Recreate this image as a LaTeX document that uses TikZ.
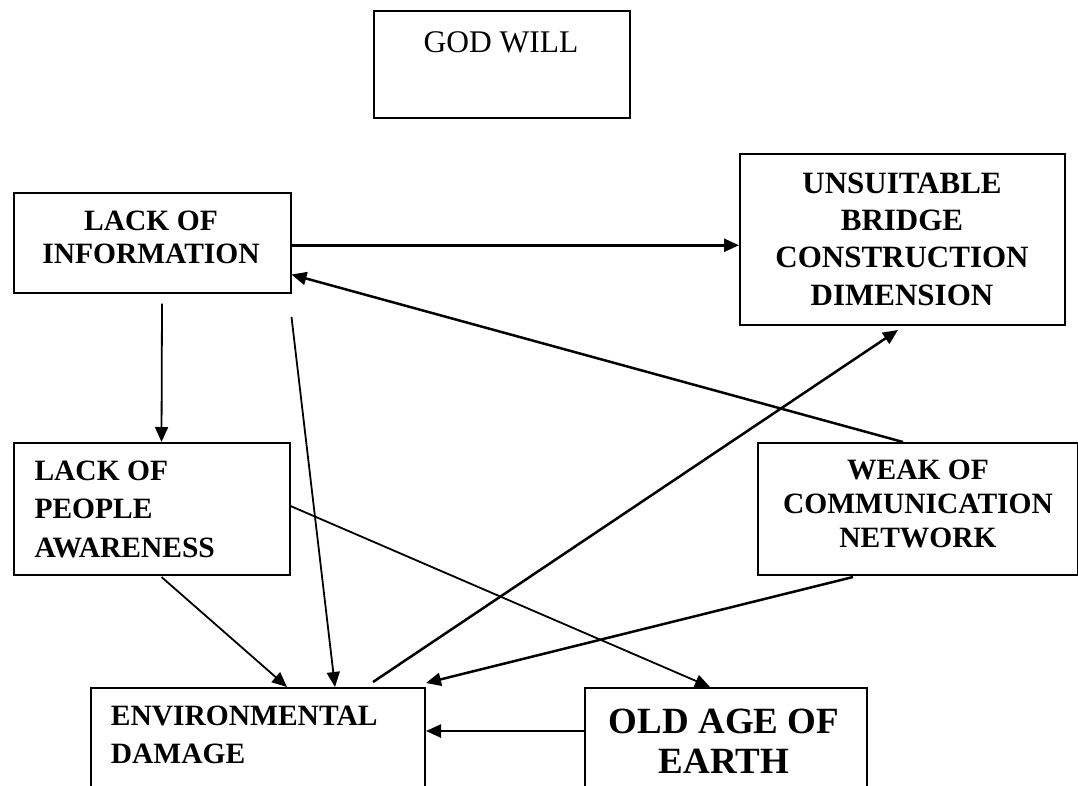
\documentclass[tikz,border=0pt]{standalone}
\usepackage{fontspec}
\setmainfont{Liberation Serif}
\usetikzlibrary{arrows.meta,calc}
\begin{document}
\begin{tikzpicture}[x=1pt,y=-1pt,
  box/.style={draw, line width=2pt, inner sep=0pt, anchor=north west},
  lbl/.style={inner sep=0pt, anchor=base, align=center, font=\bfseries\fontsize{29.5}{33.3}\selectfont},
  arr/.style={-{Triangle[length=15pt,width=13pt]}, line width=1.8pt},
  tarr/.style={arr, line width=2.5pt}]
\useasboundingbox (0,0) rectangle (1078,785);
\clip (0,0) rectangle (1078,785);
% boxes
\node[box, minimum width=256pt, minimum height=107pt] (god) at (373,10) {};
\node[box, minimum width=277pt, minimum height=99.5pt] (loi) at (12.5,192) {};
\node[box, minimum width=325pt, minimum height=171pt] (uns) at (739,153) {};
\node[box, minimum width=276pt, minimum height=132pt] (lopa) at (12.5,442) {};
\node[box, minimum width=320pt, minimum height=131.5pt] (weak) at (757,442) {};
\node[box, minimum width=334pt, minimum height=150pt] (env) at (90,687) {};
\node[box, minimum width=282pt, minimum height=150pt] (old) at (584,687) {};
% texts (anchor = baseline of last line)
\node[lbl, font=\fontsize{31.5}{36}\selectfont] (godT) at (501,52.7) {GOD WILL};
\node[lbl] (loiT) at (151,263.3) {LACK OF\\INFORMATION};
\node[lbl, font=\bfseries\fontsize{31}{37.3}\selectfont] (unsT) at (902,305) {UNSUITABLE\\BRIDGE\\CONSTRUCTION\\DIMENSION};
\node[lbl, align=left, anchor=base west, font=\bfseries\fontsize{29.5}{38.8}\selectfont] (lopaT) at (34.3,557.7) {LACK OF\\PEOPLE\\AWARENESS};
\node[lbl, font=\bfseries\fontsize{29.5}{33.7}\selectfont] (weakT) at (918,547.3) {WEAK OF\\COMMUNICATION\\NETWORK};
\node[lbl, align=left, anchor=base west, font=\bfseries\fontsize{29.5}{38.3}\selectfont] (envT) at (110.7,763.3) {ENVIRONMENTAL\\DAMAGE};
\node[lbl, font=\bfseries\fontsize{37}{40}\selectfont] (oldT) at (724,773.3) {OLD AGE OF\\EARTH};
% connectors
\draw[tarr] ([yshift=-2.5pt]loi.east) -- ([yshift=-2.5pt]loi.east -| uns.west);
\draw[tarr] ([xshift=-15pt]weak.north) -- ([yshift=19pt]loi.south east);
\draw[arr] ([xshift=10pt,yshift=-10pt]loi.south) -- ([xshift=10pt]lopa.north);
\draw[arr] ([yshift=-23.5pt]loi.south east) -- ([xshift=245pt]env.north west);
\draw[arr] ([xshift=10pt,yshift=-1pt]lopa.south) -- ([xshift=197pt]env.north west);
\draw[arr] ([yshift=3pt]lopa.east) -- ([xshift=126pt]old.north west);
\draw[tarr] ([xshift=283pt,yshift=5pt]env.north west) -- ([xshift=-4.5pt,yshift=-4pt]uns.south);
\draw[tarr] ([xshift=-65pt,yshift=-1.5pt]weak.south) -- ([yshift=4pt]env.north east);
\draw[tarr] ([yshift=-44pt]old.north west) -- ([yshift=-44pt]old.north west -| env.east);
\end{tikzpicture}
\end{document}
